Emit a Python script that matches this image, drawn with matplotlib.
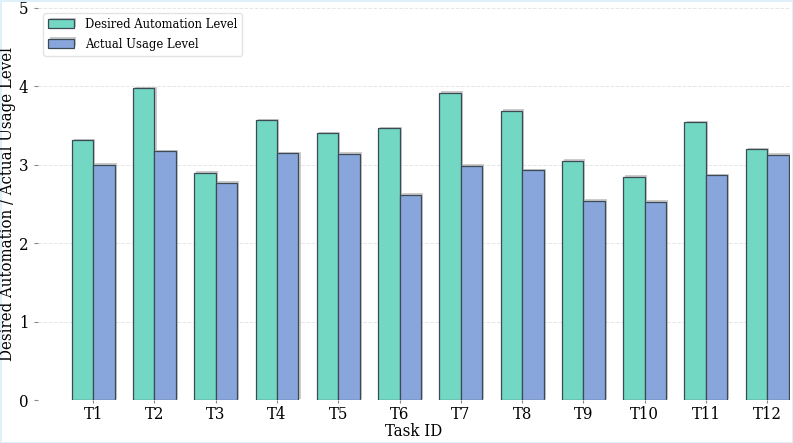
import matplotlib
matplotlib.use("Agg")
import matplotlib.pyplot as plt
import matplotlib.patheffects as pe
import numpy as np

tasks = ["T1", "T2", "T3", "T4", "T5", "T6", "T7", "T8", "T9", "T10", "T11", "T12"]
desired = [3.31, 3.98, 2.90, 3.57, 3.40, 3.47, 3.92, 3.69, 3.05, 2.85, 3.54, 3.20]
actual = [3.00, 3.17, 2.77, 3.15, 3.14, 2.62, 2.99, 2.93, 2.54, 2.53, 2.87, 3.13]

plt.rcParams['font.family'] = ['DejaVu Serif']
plt.rcParams['font.stretch'] = 'condensed'

fig = plt.figure(figsize=(7.93, 4.43), dpi=100, facecolor='white',
                 edgecolor='#dff0fb', linewidth=2)
ax = fig.add_axes([0.048, 0.097, 0.948, 0.885])

x = np.arange(len(tasks))
w = 0.35
shadow = [pe.SimplePatchShadow(offset=(1.5, 1), shadow_rgbFace='#999999', alpha=0.5), pe.Normal()]
ax.bar(x - w/2, desired, w, color='#72d7c3', edgecolor='#3c4a55', linewidth=0.9,
       label='Desired Automation Level', path_effects=shadow, zorder=3)
ax.bar(x + w/2, actual, w, color='#88a6dc', edgecolor='#3c4a55', linewidth=0.9,
       label='Actual Usage Level', path_effects=shadow, zorder=3)

ax.set_xticks(x)
ax.set_xticklabels(tasks, fontsize=12)
ax.set_ylim(0, 5)
ax.set_yticks([0, 1, 2, 3, 4, 5])
ax.tick_params(axis='y', labelsize=12, length=3, color='#888888', pad=4)
ax.tick_params(axis='x', length=2, color='#888888', pad=2)
ax.set_xlim(-0.9, 11.37)
ax.set_xlabel("Task ID", fontsize=12, labelpad=0)
ax.set_ylabel("Desired Automation / Actual Usage Level", fontsize=12)
ax.yaxis.set_label_coords(-0.029, 0.5)
ax.yaxis.grid(True, linestyle='--', color='#e6e6e6', linewidth=0.7, zorder=0)
ax.set_axisbelow(True)
for s in ax.spines.values():
    s.set_visible(False)

ax.legend(loc='upper left', fontsize=9.3, frameon=True, bbox_to_anchor=(0.0, 1.0),
          borderaxespad=0.4, edgecolor='#dddddd')

fig.savefig("out.png", dpi=100)
